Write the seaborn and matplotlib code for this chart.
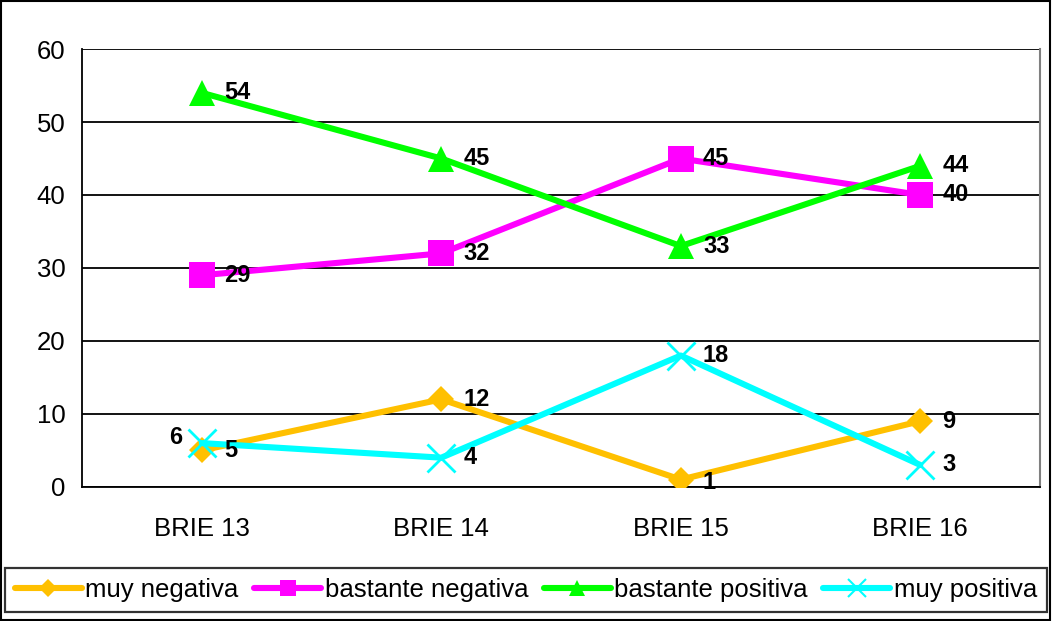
import numpy as np
import pandas as pd
import matplotlib
matplotlib.use("Agg")
import matplotlib.pyplot as plt
import seaborn as sns
from matplotlib.patches import Rectangle
from matplotlib.lines import Line2D

# datos
categorias = ["BRIE 13", "BRIE 14", "BRIE 15", "BRIE 16"]
muy_negativa = [5, 12, 1, 9]
bastante_negativa = [29, 32, 45, 40]
bastante_positiva = [54, 45, 33, 44]
muy_positiva = [6, 4, 18, 3]

series = ["muy negativa", "bastante negativa", "bastante positiva", "muy positiva"]
valores = [muy_negativa, bastante_negativa, bastante_positiva, muy_positiva]
colores = ["#FFC000", "#FF00FF", "#00FF00", "#00FFFF"]
marcadores = ["D", "s", "^", "x"]
tam_marc = [13, 19, 19, 20]

df = pd.DataFrame({
    "pos": np.tile(np.arange(len(categorias)), len(series)),
    "valor": np.concatenate(valores),
    "serie": np.repeat(series, len(categorias)),
})

sns.set_style("white")
plt.rcParams["font.family"] = ["Liberation Sans", "DejaVu Sans"]
plt.rcParams["text.color"] = "black"
plt.rcParams["xtick.color"] = "black"
plt.rcParams["ytick.color"] = "black"

fig = plt.figure(figsize=(10.52, 6.21), dpi=100)
ax = fig.add_axes([0.078, 0.216, 0.9106, 0.705])

for i, s in enumerate(series):
    d = df[df["serie"] == s]
    sns.lineplot(data=d, x="pos", y="valor", ax=ax, color=colores[i], lw=4.4,
                 marker=marcadores[i], markersize=tam_marc[i],
                 markeredgewidth=2 if marcadores[i] == "x" else 0,
                 markeredgecolor=colores[i], legend=False, zorder=3)

# etiquetas de datos
for i, s in enumerate(series):
    for j, v in enumerate(valores[i]):
        dx, ha = 16, "left"
        if s == "muy positiva" and j == 0:
            dx, ha = -14, "right"
        dy = 4 if (s == "muy positiva" and j == 0) else 0
        if s == "muy negativa" and j == 2:
            dy = -2
        ax.annotate(str(v), (j, v), xytext=(dx, dy), textcoords="offset points",
                    ha=ha, va="center", fontsize=17, fontweight="bold", zorder=4)

ax.set_xlim(-0.5, 3.5)
ax.set_ylim(0, 60)
ax.set_yticks(range(0, 61, 10))
ax.set_xticks(range(len(categorias)))
ax.set_xticklabels(categorias)
ax.set_xticks(np.arange(-0.5, 3.6, 1), minor=True)
ax.tick_params(axis="x", which="major", length=0, pad=22, labelsize=18.5)
ax.tick_params(axis="x", which="minor", length=5, width=1.2, color="black", direction="out")
ax.tick_params(axis="y", length=5, width=1.2, color="black", direction="out", labelsize=18.5, pad=7)
ax.yaxis.grid(True, color="black", lw=1.3)
ax.xaxis.grid(False)
ax.set_xlabel("")
ax.set_ylabel("")
ax.spines["top"].set_visible(False)
ax.spines["left"].set_color("black")
ax.spines["bottom"].set_color("black")
ax.spines["left"].set_linewidth(1.3)
ax.spines["bottom"].set_linewidth(1.3)
ax.spines["right"].set_color("#808080")
ax.spines["right"].set_linewidth(1.5)

tam_ley = [9, 12, 12, 13]
handles = [Line2D([], [], color=colores[i], lw=4.4, marker=marcadores[i],
                  markersize=tam_ley[i], markeredgewidth=1.5 if marcadores[i] == "x" else 0,
                  markeredgecolor=colores[i]) for i in range(len(series))]
leg = fig.legend(handles, series, loc="lower center", bbox_to_anchor=(0.5, 0.014),
                 ncol=4, fontsize=18.5, frameon=True, fancybox=False, handlelength=2.6,
                 handletextpad=0.15, columnspacing=0.6, borderpad=0.4, borderaxespad=0)
leg.get_frame().set_edgecolor("black")
leg.get_frame().set_linewidth(1.6)

fig.patches.append(Rectangle((0.001, 0.001), 0.997, 0.997, transform=fig.transFigure,
                             fill=False, edgecolor="black", lw=1.5))

fig.savefig("out.png", dpi=100)
